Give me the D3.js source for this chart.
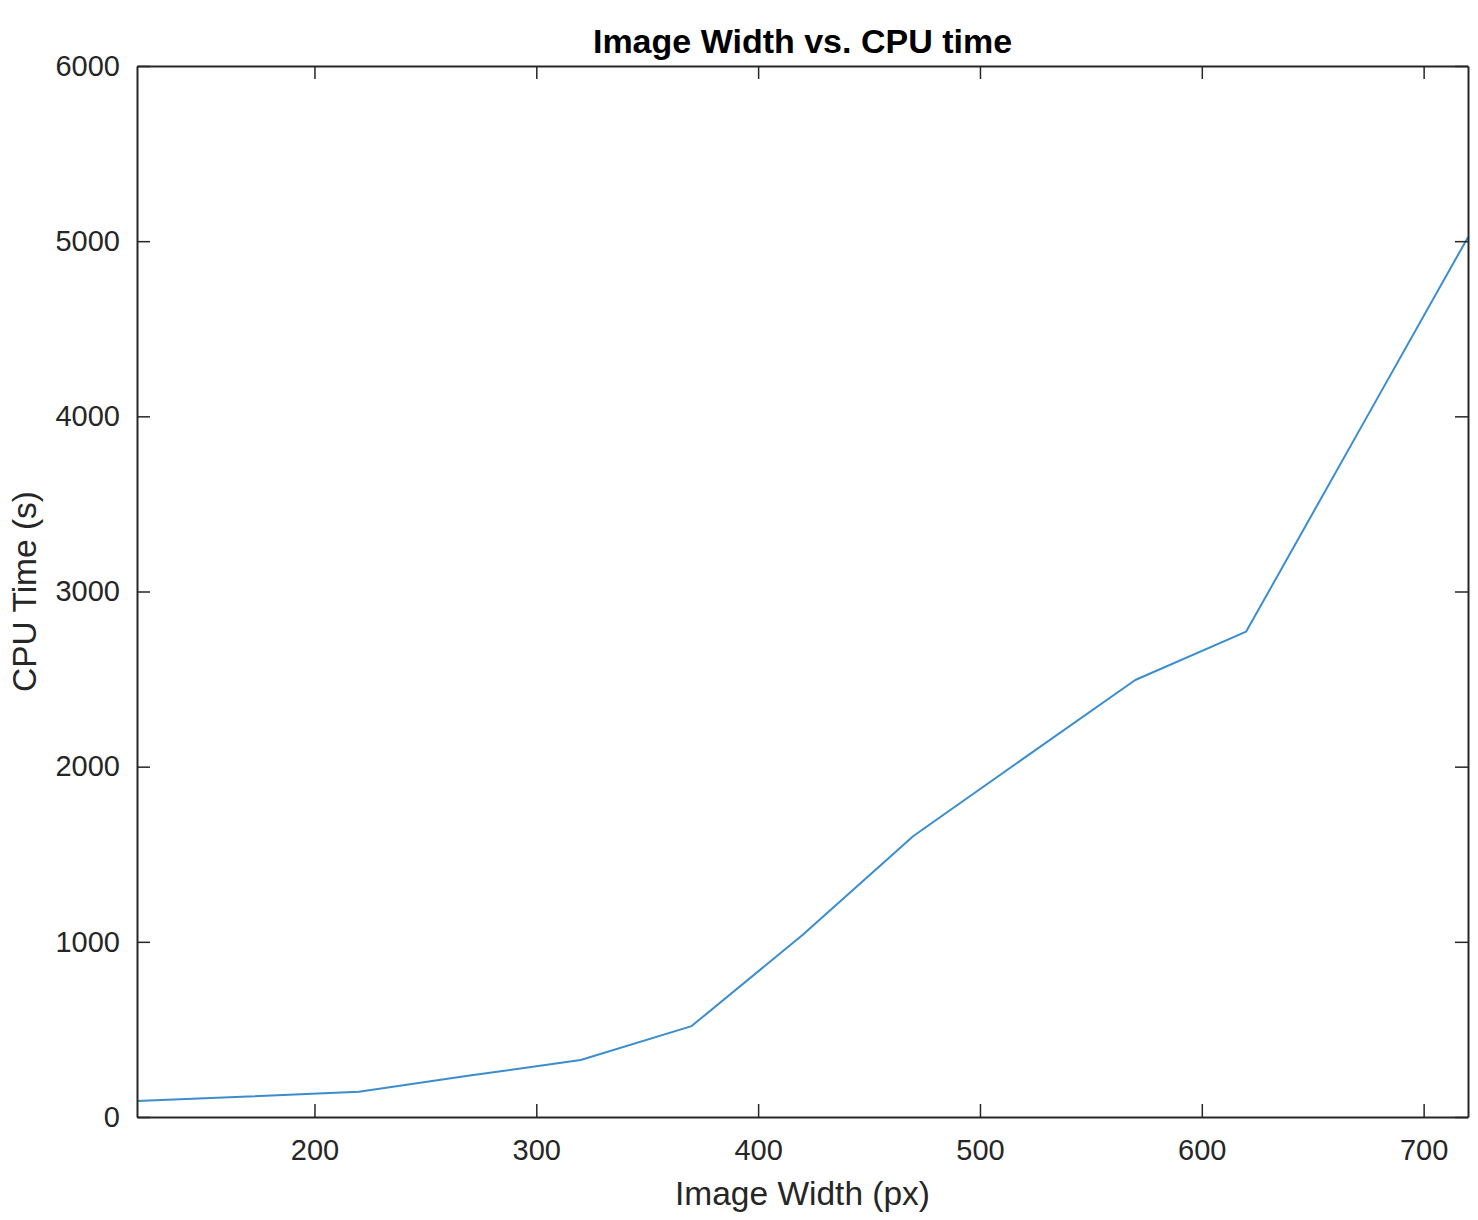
<!DOCTYPE html>
<html>
<head>
<meta charset="utf-8">
<script src="https://cdn.jsdelivr.net/npm/d3@7"></script>
<style>
  html, body { margin: 0; padding: 0; background: #fff; }
  svg { display: block; }
</style>
</head>
<body>
<svg id="chart" width="1478" height="1220"></svg>
<script>
// Data
const imageWidths = [120, 170, 220, 270, 320, 370, 420, 470, 520, 570, 620, 670, 720];
const cpuTimes    = [91, 117, 144, 237, 325, 519, 1039, 1604, 2050, 2495, 2771, 3897, 5023];
const xTicks = [200, 300, 400, 500, 600, 700];
const yTicks = [0, 1000, 2000, 3000, 4000, 5000, 6000];
const titleText = "Image Width vs. CPU time";
const xLabelText = "Image Width (px)";
const yLabelText = "CPU Time (s)";

const svg = d3.select("#chart");
const margin = { left: 137, right: 10, top: 66, bottom: 103 };
const W = 1478, H = 1220;
const innerW = W - margin.left - margin.right;
const innerH = H - margin.top - margin.bottom;

const x = d3.scaleLinear().domain([120, 720]).range([0, innerW]);
const y = d3.scaleLinear().domain([0, 6000]).range([innerH, 0]);

const g = svg.append("g").attr("transform", `translate(${margin.left},${margin.top})`);

const axisColor = "#262626";
const font = "'Liberation Sans', Arial, Helvetica, sans-serif";
const tickLen = 13;

// Line
const line = d3.line().x((d, i) => x(imageWidths[i])).y(d => y(d));
g.append("path")
  .datum(cpuTimes)
  .attr("fill", "none")
  .attr("stroke", "#3a8dcf")
  .attr("stroke-width", 2)
  .attr("stroke-linejoin", "round")
  .attr("d", line);

function styleAxis(sel) {
  sel.select(".domain").attr("stroke", axisColor).attr("stroke-width", 2);
  sel.selectAll(".tick line").attr("stroke", axisColor).attr("stroke-width", 1.5);
  sel.selectAll(".tick text").attr("fill", axisColor)
    .style("font-family", font).style("font-size", "29px");
}

const xBottom = g.append("g").attr("transform", `translate(0,${innerH})`)
  .call(d3.axisBottom(x).tickValues(xTicks).tickFormat(d3.format("d"))
        .tickSizeInner(-tickLen).tickSizeOuter(0).tickPadding(22));
styleAxis(xBottom);

const xTop = g.append("g")
  .call(d3.axisTop(x).tickValues(xTicks).tickFormat("")
        .tickSizeInner(-tickLen).tickSizeOuter(0));
styleAxis(xTop);

const yLeft = g.append("g")
  .call(d3.axisLeft(y).tickValues(yTicks).tickFormat(d3.format("d"))
        .tickSizeInner(-tickLen).tickSizeOuter(0).tickPadding(17));
styleAxis(yLeft);

const yRight = g.append("g").attr("transform", `translate(${innerW},0)`)
  .call(d3.axisRight(y).tickValues(yTicks).tickFormat("")
        .tickSizeInner(-tickLen).tickSizeOuter(0));
styleAxis(yRight);

// Title
svg.append("text")
  .attr("x", margin.left + innerW / 2)
  .attr("y", 53)
  .attr("text-anchor", "middle")
  .style("font-family", font)
  .style("font-weight", "bold")
  .style("font-size", "34px")
  .attr("fill", "#000")
  .text(titleText);

// X label
svg.append("text")
  .attr("x", margin.left + innerW / 2)
  .attr("y", 1205)
  .attr("text-anchor", "middle")
  .style("font-family", font)
  .style("font-size", "33.5px")
  .attr("fill", axisColor)
  .text(xLabelText);

// Y label
svg.append("text")
  .attr("transform", `translate(36,${margin.top + innerH / 2}) rotate(-90)`)
  .attr("text-anchor", "middle")
  .style("font-family", font)
  .style("font-size", "33.5px")
  .attr("fill", axisColor)
  .text(yLabelText);
</script>
</body>
</html>
